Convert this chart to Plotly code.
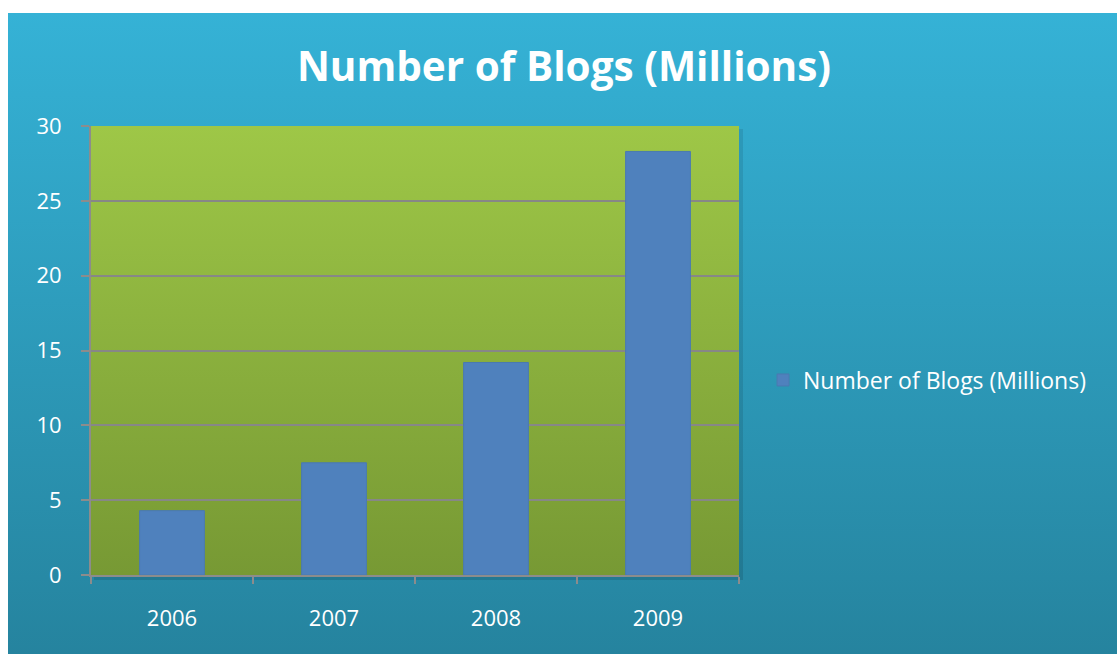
import base64
import plotly.graph_objects as go

years = ["2006", "2007", "2008", "2009"]
blogs = [4.3, 7.5, 14.2, 28.3]
series_name = "Number of Blogs (Millions)"
title_text = "Number of Blogs (Millions)"
y_ticks = [0, 5, 10, 15, 20, 25, 30]


def gradient_uri(top, bottom):
    svg = (
        '<svg xmlns="http://www.w3.org/2000/svg" width="100" height="100" '
        'viewBox="0 0 100 100" preserveAspectRatio="none">'
        '<defs><linearGradient id="g" x1="0" y1="0" x2="0" y2="1">'
        f'<stop offset="0" stop-color="{top}"/><stop offset="1" stop-color="{bottom}"/>'
        '</linearGradient></defs><rect width="100" height="100" fill="url(#g)"/></svg>'
    )
    return "data:image/svg+xml;base64," + base64.b64encode(svg.encode()).decode()


W, H = 1117, 654
L, R, T, B = 91, 739, 126, 575
pw, ph = R - L, B - T


def px_x(p):
    return (p - L) / pw


def px_y(p):
    return (B - p) / ph


fig = go.Figure()
fig.add_trace(go.Bar(
    x=years, y=blogs, name=series_name, width=0.4,
    marker=dict(color="#4F81BD", line=dict(color="#4A7AB0", width=1)),
    showlegend=True,
))

images = [
    # outer blue panel
    dict(source=gradient_uri("#35B2D6", "#25839E"), xref="paper", yref="paper",
         x=px_x(8), y=px_y(13), sizex=px_x(W + 5) - px_x(8), sizey=px_y(13) - px_y(H + 5),
         sizing="stretch", layer="below", xanchor="left", yanchor="top"),
    # plot area shadow
    dict(source=gradient_uri("#2A8FAE", "#1F6F87"), xref="paper", yref="paper",
         x=px_x(L + 3), y=px_y(T + 3), sizex=px_x(R + 4) - px_x(L + 3), sizey=px_y(T + 3) - px_y(B + 5),
         sizing="stretch", layer="below", xanchor="left", yanchor="top", opacity=0.6),
    # green plot area
    dict(source=gradient_uri("#9EC747", "#779934"), xref="paper", yref="paper",
         x=0, y=1, sizex=1, sizey=1,
         sizing="stretch", layer="below", xanchor="left", yanchor="top"),
]

fig.update_layout(
    width=W, height=H,
    margin=dict(l=L, r=W - R, t=T, b=H - B, pad=0),
    paper_bgcolor="white",
    plot_bgcolor="rgba(0,0,0,0)",
    images=images,
    title=dict(text=f"<b>{title_text}</b>", x=564 / W, y=1 - 67 / H,
               xanchor="center", yanchor="middle", xref="container", yref="container",
               font=dict(family="Open Sans", size=40.5, color="white")),
    font=dict(family="Open Sans", color="white"),
    bargap=0.6,
    legend=dict(x=px_x(763), y=px_y(380), xanchor="left", yanchor="middle",
                bgcolor="rgba(0,0,0,0)", font=dict(family="Open Sans", size=23, color="white"),
                itemwidth=30),
    showlegend=True,
)

fig.update_xaxes(
    type="category", showgrid=False, showline=True, linecolor="#8C8C8C", linewidth=2,
    ticks="outside", tickson="boundaries", ticklen=7, tickwidth=2, tickcolor="#8C8C8C",
    tickfont=dict(family="Open Sans", size=22, color="white"), ticklabelstandoff=23,
    mirror=False, zeroline=False,
)
fig.update_yaxes(
    range=[0, 30], tickvals=y_ticks, showgrid=True, gridcolor="#878787", gridwidth=2,
    showline=True, linecolor="#8C8C8C", linewidth=2,
    ticks="outside", ticklen=8, tickwidth=2, tickcolor="#8C8C8C",
    tickfont=dict(family="Open Sans", size=22, color="white"), ticklabelstandoff=15,
    zeroline=False,
)

fig.write_html("out.html")
